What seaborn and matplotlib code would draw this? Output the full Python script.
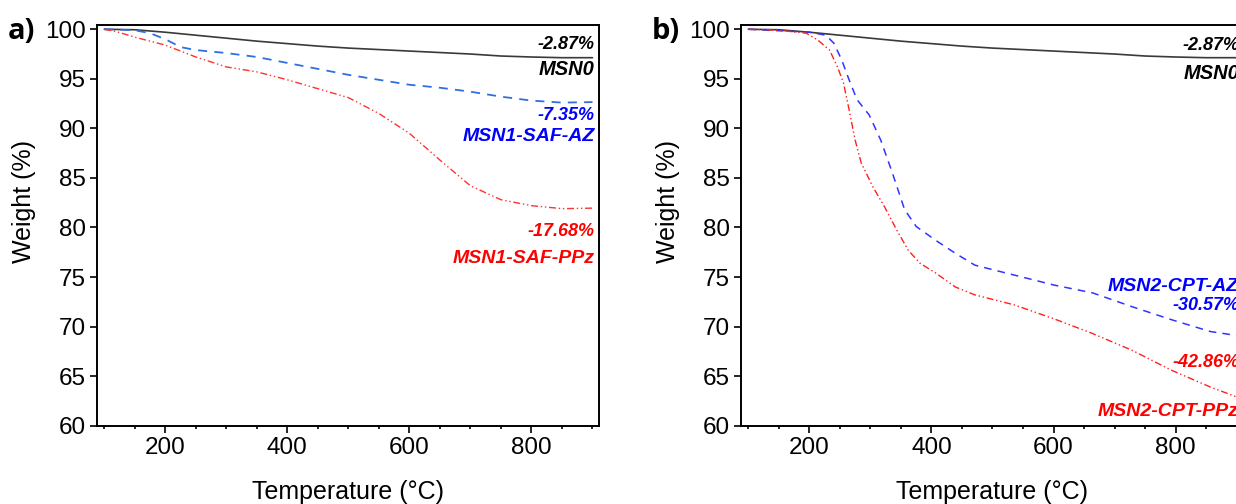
import matplotlib
matplotlib.use('Agg')
import matplotlib.pyplot as plt
import numpy as np
import pandas as pd
import seaborn as sns
from matplotlib.ticker import MultipleLocator

# temperature grids (degC) and weight (%)
T_MSN0 = [100, 150, 200, 250, 300, 350, 400, 450, 500, 550, 600, 650, 700, 750, 800, 850, 900]
W_MSN0 = [100.0, 99.95, 99.7, 99.4, 99.1, 98.8, 98.55, 98.3, 98.1, 97.95, 97.8, 97.65, 97.5, 97.3, 97.2, 97.13, 97.13]

T_SAF_AZ = [100, 150, 175, 200, 225, 250, 300, 350, 400, 450, 500, 550, 600, 650, 700, 750, 800, 850, 900]
W_SAF_AZ = [100.0, 99.9, 99.6, 99.0, 98.2, 97.9, 97.6, 97.2, 96.6, 96.0, 95.4, 94.9, 94.4, 94.1, 93.7, 93.2, 92.8, 92.6, 92.65]

T_SAF_PPZ = [100, 120, 150, 200, 250, 300, 350, 400, 450, 500, 550, 600, 650, 700, 750, 800, 850, 900]
W_SAF_PPZ = [100.0, 99.76, 99.2, 98.4, 97.2, 96.2, 95.7, 94.9, 94.0, 93.1, 91.5, 89.5, 86.8, 84.2, 82.8, 82.2, 81.9, 81.95]

T_CPT_AZ = [100, 200, 227, 240, 253, 265, 278, 298, 317, 336, 356, 375, 407, 439, 471, 503, 568, 600, 664, 729, 793, 857, 900]
W_CPT_AZ = [100.0, 99.7, 99.4, 98.6, 96.9, 94.9, 92.9, 91.35, 88.8, 85.5, 81.8, 80.1, 78.7, 77.4, 76.2, 75.7, 74.7, 74.2, 73.4, 72.0, 70.7, 69.5, 69.1]

T_CPT_PPZ = [100, 150, 195, 214, 233, 246, 256, 265, 275, 285, 304, 323, 343, 362, 381, 407, 439, 471, 535, 600, 664, 729, 793, 857, 900]
W_CPT_PPZ = [100.0, 99.9, 99.6, 98.9, 97.9, 96.2, 94.55, 91.9, 88.8, 86.5, 84.1, 82.1, 79.75, 77.7, 76.4, 75.4, 74.0, 73.2, 72.2, 70.8, 69.3, 67.6, 65.6, 63.9, 62.9]

# annotation labels: (text, y value, colour, font size)
LABELS_A = [('-2.87%', 98.5, 'black', 13), ('MSN0', 95.9, 'black', 14.5),
            ('-7.35%', 91.3, '#0000ff', 13), ('MSN1-SAF-AZ', 89.2, '#0000ff', 14),
            ('-17.68%', 79.6, '#ff0000', 13), ('MSN1-SAF-PPz', 76.9, '#ff0000', 14)]
LABELS_B = [('-2.87%', 98.4, 'black', 13), ('MSN0', 95.5, 'black', 14.5),
            ('MSN2-CPT-AZ', 74.0, '#0000ff', 14), ('-30.57%', 72.1, '#0000ff', 13),
            ('-42.86%', 66.4, '#ff0000', 13), ('MSN2-CPT-PPz', 61.4, '#ff0000', 14)]

sns.set_style('ticks')
plt.rcParams['font.family'] = ['Liberation Sans', 'DejaVu Sans']
plt.rcParams['text.color'] = 'black'
plt.rcParams['axes.labelcolor'] = 'black'
plt.rcParams['xtick.color'] = 'black'
plt.rcParams['ytick.color'] = 'black'

DASH_DOT_DOT = (0, (5, 2, 1, 2, 1, 2))

fig = plt.figure(figsize=(12.36, 5.04), dpi=100)
ax_a = fig.add_axes([0.0787, 0.1554, 0.4061, 0.7956])
ax_b = fig.add_axes([0.5998, 0.1554, 0.4061, 0.7956])


def draw_panel(ax, series, labels):
    for t, w, color, ls, lw in series:
        df = pd.DataFrame({'T': t, 'W': w})
        sns.lineplot(data=df, x='T', y='W', ax=ax, color=color, linestyle=ls, linewidth=lw)
    ax.set_xlim(88.5, 911)
    ax.set_ylim(60, 100.46)
    ax.xaxis.set_major_locator(MultipleLocator(200))
    ax.xaxis.set_minor_locator(MultipleLocator(50))
    ax.yaxis.set_major_locator(MultipleLocator(5))
    ax.tick_params(axis='both', which='major', labelsize=17.5, length=5, width=1.2, direction='out',
                   color='black', labelcolor='black', pad=3)
    ax.tick_params(axis='x', which='minor', length=2.5, width=1.2, direction='out', color='black')
    ax.tick_params(top=False, right=False)
    for sp in ax.spines.values():
        sp.set_visible(True)
        sp.set_linewidth(1.4)
        sp.set_color('black')
    ax.set_xlabel('Temperature (°C)', fontsize=18, labelpad=15, color='black')
    ax.set_ylabel('Weight (%)', fontsize=18, color='black')
    ax.yaxis.set_label_coords(-0.122, 0.558)
    for text, y, color, size in labels:
        ax.text(904, y, text, ha='right', va='center', color=color, fontsize=size,
                fontweight='bold', fontstyle='italic', clip_on=False)


draw_panel(ax_a, [
    (T_MSN0, W_MSN0, '#3a3a3a', '-', 1.2),
    (T_SAF_AZ, W_SAF_AZ, '#2f6fe0', (0, (5, 4)), 1.3),
    (T_SAF_PPZ, W_SAF_PPZ, '#ff3030', DASH_DOT_DOT, 1.0),
], LABELS_A)

draw_panel(ax_b, [
    (T_MSN0, W_MSN0, '#3a3a3a', '-', 1.2),
    (T_CPT_AZ, W_CPT_AZ, '#3333ff', (0, (5, 4)), 1.1),
    (T_CPT_PPZ, W_CPT_PPZ, '#ff2020', DASH_DOT_DOT, 1.0),
], LABELS_B)

fig.text(8 / 1236, (504 - 39) / 504, 'a)', fontsize=21, fontweight='bold',
         family=['Open Sans', 'DejaVu Sans'], ha='left', va='baseline')
fig.text(652 / 1236, (504 - 39) / 504, 'b)', fontsize=21, fontweight='bold',
         family=['Open Sans', 'DejaVu Sans'], ha='left', va='baseline')

fig.savefig('out.png', dpi=100)
